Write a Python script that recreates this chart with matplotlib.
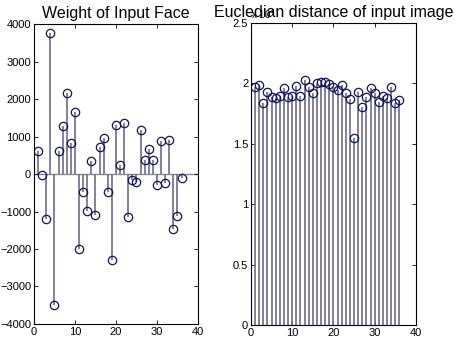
import matplotlib
matplotlib.use('Agg')
import matplotlib.pyplot as plt

plt.rcParams['font.family'] = ['Liberation Sans', 'DejaVu Sans']

# weights of the input face (left panel)
weight_idx = list(range(1, 37))
weights = [620, -30, -1200, 3750, -3500, 620, 1290, 2160, 835, 1645,
           -1990, -490, -980, 360, -1090, 730, 970, -490, -2290, 1310,
           250, 1370, -1150, -160, -200, 1170, 375, 665, 375, -285,
           890, -250, 905, -1475, -1120, -100]

# euclidean distances (right panel), in units of 10^4
dist_idx = list(range(1, 37))
distances = [1.970, 1.983, 1.834, 1.931, 1.887, 1.879, 1.898, 1.961, 1.887, 1.892,
             1.975, 1.898, 2.025, 1.967, 1.920, 2.003, 2.014, 2.008, 1.997, 1.967,
             1.947, 1.989, 1.920, 1.870, 1.550, 1.925, 1.804, 1.887, 1.961, 1.920,
             1.842, 1.898, 1.876, 1.967, 1.837, 1.865]

line_col = '#6c6c8a'
mark_col = '#14145a'

fig = plt.figure(figsize=(4.55, 3.46), dpi=100)
ax1 = fig.add_axes([0.0747, 0.0636, 0.3604, 0.867])
ax2 = fig.add_axes([0.5516, 0.0607, 0.3626, 0.8728])


def draw_stem(ax, x, y):
    ml, sl, bl = ax.stem(x, y, basefmt=' ')
    plt.setp(sl, color=line_col, linewidth=1.2)
    plt.setp(ml, marker='o', markersize=6, markerfacecolor='none',
             markeredgecolor=mark_col, markeredgewidth=0.9)


draw_stem(ax1, weight_idx, weights)
ax1.axhline(0, color='#8a8a8a', linewidth=1.0, zorder=0)
ax1.set_xlim(0, 40)
ax1.set_ylim(-4000, 4000)
ax1.set_yticks(range(-4000, 4001, 1000))
ax1.set_title('Weight of Input Face', fontsize=11.5, pad=4)

draw_stem(ax2, dist_idx, distances)
ax2.set_xlim(0, 40)
ax2.set_ylim(0, 2.5)
ax2.set_yticks([0, 0.5, 1, 1.5, 2, 2.5])
ax2.set_yticklabels(['0', '0.5', '1', '1.5', '2', '2.5'])
ax2.set_title('Eucledian distance of input image', fontsize=11.5, pad=4)
ax2.text(0.0, 1.005, r'x 10$^{4}$', transform=ax2.transAxes, fontsize=7,
         ha='left', va='bottom', zorder=0)

for ax in (ax1, ax2):
    ax.set_xticks([0, 10, 20, 30, 40])
    ax.tick_params(direction='in', length=3, width=0.6, labelsize=8,
                   top=True, right=True, pad=2)
    for s in ax.spines.values():
        s.set_linewidth(0.8)

fig.savefig('out.png', dpi=100)
